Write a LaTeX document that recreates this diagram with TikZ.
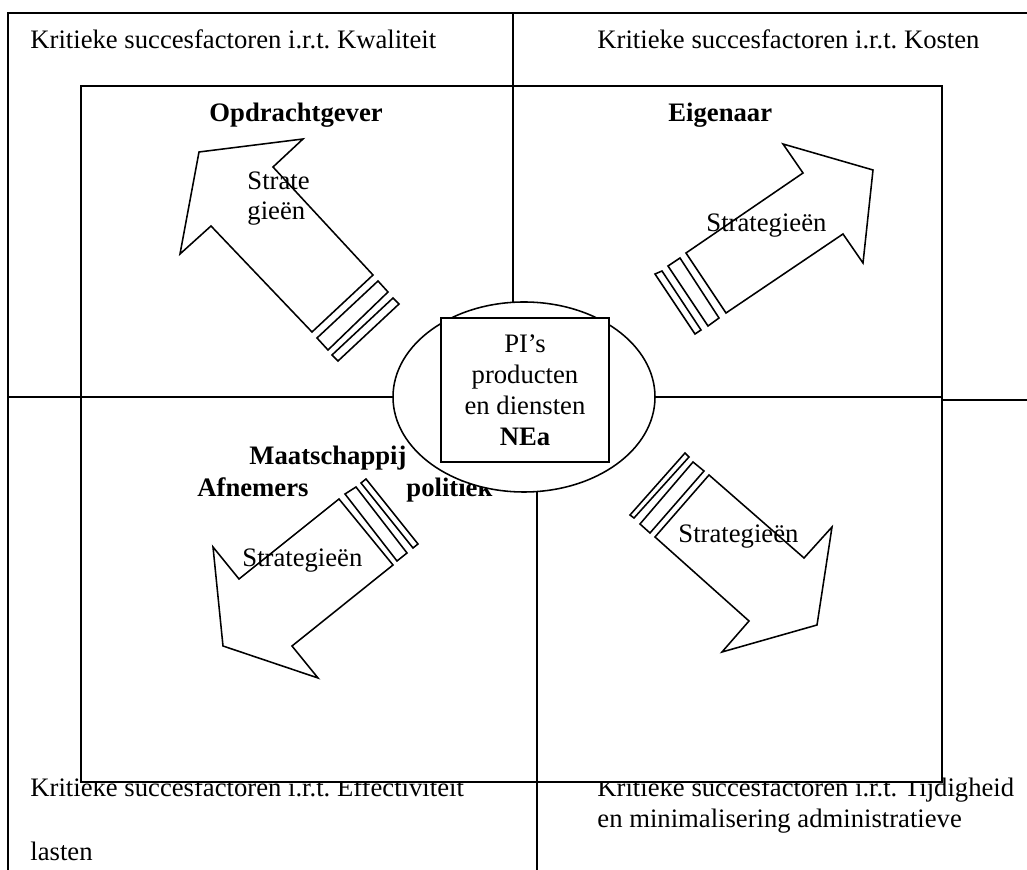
\documentclass[tikz,border=0pt]{standalone}
\usepackage{fontspec}
\setmainfont{Liberation Serif}
\frenchspacing

\begin{document}
\begin{tikzpicture}[x=0.45pt, y=-0.45pt,
    % Thin black lines for frames, dividers and arrows
    frameline/.style={line width=0.7pt, draw=black, line join=miter},
    % Plain text, placed by its baseline
    csftext/.style={anchor=base west, inner sep=0pt, font=\fontsize{12}{14}\selectfont},
    % Bold names of the parties
    actor/.style={csftext, font=\fontsize{12}{14}\selectfont\bfseries}
]
\useasboundingbox (0,0) rectangle (1027,870);

% 1. Corner texts (the inner frame is drawn over the top of the lower ones)
\node[csftext] (kwal) at (30,49)  {Kritieke succesfactoren i.r.t. Kwaliteit};
\node[csftext] (kost) at (597,49) {Kritieke succesfactoren i.r.t. Kosten};
\node[csftext] (effe) at (30,797) {Kritieke succesfactoren i.r.t. Effectiviteit};
\node[csftext] (last) at (30,860) {lasten};
\node[csftext] (tijd) at (597,797) {Kritieke succesfactoren i.r.t. Tijdigheid};
\node[csftext] (admi) at (597,828) {en minimalisering administratieve};

% 2. Outer and inner frame
\draw[frameline] (1027,13) -- (8,13) -- (8,870);
\draw[frameline, fill=white] (81,86) rectangle (942,782);

% 3. Quadrant dividers
\draw[frameline] (513,13) -- (513,397);
\draw[frameline] (537,397) -- (537,870);
\draw[frameline] (8,397) -- (942,397);
\draw[frameline] (942,400) -- (1027,400);

% 4. Parties
\node[actor] (opdr) at (209,122) {Opdrachtgever};
\node[actor] (eige) at (668,122) {Eigenaar};
\node[actor] (maat) at (249,465) {Maatschappij};
\node[actor] (afne) at (197,497) {Afnemers};
\node[actor] (poli) at (406,497) {politiek};

% 5. Strategy arrows, each with two bands behind its base
% Top-left arrow
\draw[frameline] (199,152) -- (303,139) -- (273,167) -- (373,275) -- (312,332) -- (211,226) -- (180,254) -- cycle;
\draw[frameline] (378,281) -- (388,292) -- (328,350) -- (317,338) -- cycle;
\draw[frameline] (393,298) -- (399,304) -- (338,361) -- (332,355) -- cycle;
\node[csftext] (stra) at (247,190) {Strate};
\node[csftext] (gien) at (247,220) {gieën};
% Top-right arrow
\draw[frameline] (783,144) -- (873,170) -- (863,263) -- (843,234) -- (726,313) -- (686,253) -- (803,173) -- cycle;
\draw[frameline] (680,258) -- (719,318) -- (708,326) -- (668,266) -- cycle;
\draw[frameline] (655,274) -- (662,271) -- (701,330) -- (695,334) -- cycle;
\node[csftext] (strb) at (706,232) {Strategieën};
% Bottom-left arrow
\draw[frameline] (339,499) -- (393,565) -- (292,646) -- (318,678) -- (223,646) -- (213,547) -- (239,579) -- cycle;
\draw[frameline] (345,494) -- (356,487) -- (407,553) -- (397,561) -- cycle;
\draw[frameline] (361,483) -- (366,479) -- (418,544) -- (413,548) -- cycle;
\node[csftext] (strc) at (242,567) {Strategieën};
% Bottom-right arrow
\draw[frameline] (709,475) -- (804,558) -- (832,527) -- (817,625) -- (722,652) -- (749,621) -- (655,537) -- cycle;
\draw[frameline] (693,462) -- (704,471) -- (650,533) -- (640,524) -- cycle;
\draw[frameline] (685,453) -- (689,457) -- (634,518) -- (630,515) -- cycle;
\node[csftext] (strd) at (678,543) {Strategieën};

% 6. Core: ellipse with the products box
\draw[frameline, fill=white] (524,397) ellipse [x radius=131, y radius=95];
\node[frameline, fill=white, minimum width=75.6pt, minimum height=64.8pt, align=center,
      font=\fontsize{12}{14}\selectfont] (nea) at (525,390) {PI’s\\producten\\en diensten\\\textbf{NEa}};

\end{tikzpicture}
\end{document}
